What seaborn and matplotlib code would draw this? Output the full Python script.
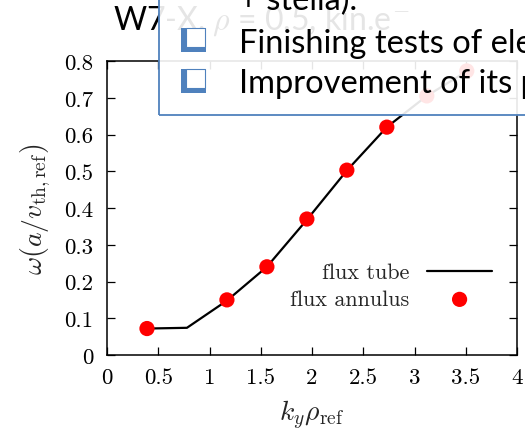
import matplotlib
matplotlib.use("Agg")
import matplotlib.pyplot as plt
from matplotlib.patches import Rectangle
import seaborn as sns
import pandas as pd

# Linear growth-rate scan: flux tube vs flux annulus
ky_tube = [0.39, 0.78, 1.17, 1.56, 1.95, 2.34, 2.73, 3.12, 3.51]
omega_tube = [0.072, 0.074, 0.148, 0.240, 0.368, 0.502, 0.620, 0.705, 0.772]
ky_annulus = [0.39, 1.17, 1.56, 1.95, 2.34, 2.73, 3.12, 3.51]
omega_annulus = [0.072, 0.150, 0.240, 0.370, 0.503, 0.620, 0.705, 0.773]

x_ticks = [0, 0.5, 1, 1.5, 2, 2.5, 3, 3.5, 4]
x_tick_labels = ["0", "0.5", "1", "1.5", "2", "2.5", "3", "3.5", "4"]
y_ticks = [0, 0.1, 0.2, 0.3, 0.4, 0.5, 0.6, 0.7, 0.8]
y_tick_labels = ["0", "0.1", "0.2", "0.3", "0.4", "0.5", "0.6", "0.7", "0.8"]

sns.set_theme(style="ticks")
plt.rcParams["font.family"] = ["cmr10", "DejaVu Serif"]
plt.rcParams["mathtext.fontset"] = "cm"
plt.rcParams["axes.formatter.use_mathtext"] = True

W, H = 525, 435
fig = plt.figure(figsize=(W / 100, H / 100), dpi=100)
fig.patch.set_facecolor("white")

def fx(px):
    return px / W

def fy(py):
    return 1 - py / H

ax = fig.add_axes([fx(107), fy(356), fx(517) - fx(107), fy(62) - fy(356)])
ax.set_facecolor("white")

tube = pd.DataFrame({"ky": ky_tube, "omega": omega_tube})
annulus = pd.DataFrame({"ky": ky_annulus, "omega": omega_annulus})

sns.lineplot(data=tube, x="ky", y="omega", ax=ax, color="black", lw=1.6,
             label="flux tube", zorder=2)
sns.scatterplot(data=annulus, x="ky", y="omega", ax=ax, color="#ff0000",
                s=120, edgecolor="none", label="flux annulus", zorder=3)

ax.set_xlim(0, 4)
ax.set_ylim(0, 0.8)
ax.set_xticks(x_ticks)
ax.set_xticklabels(x_tick_labels)
ax.set_yticks(y_ticks)
ax.set_yticklabels(y_tick_labels)
ax.tick_params(direction="in", length=6, width=0.9, top=True, right=True,
               labelsize=16.5, colors="black")
ax.tick_params(axis="y", pad=10)
ax.tick_params(axis="x", pad=9)
for sp in ax.spines.values():
    sp.set_linewidth(1.1)
    sp.set_color("black")

ax.set_xlabel(r"$k_y\rho_{\rm ref}$", fontsize=20, labelpad=8)
ax.set_ylabel(r"$\omega(a/v_{\rm th,ref})$", fontsize=20, labelpad=8)

leg = ax.legend(markerfirst=False, frameon=False, loc="lower right",
                bbox_to_anchor=(0.967, 0.118), fontsize=16,
                handlelength=2.95, handletextpad=0.8, labelspacing=0.33,
                borderpad=0.0)

# Slide heading behind the overlay box
fig.text(fx(113), fy(30), "W7-X, $\\rho$ = 0.5, kin.e$^{-}$", fontsize=23,
         family=["Lato", "DejaVu Sans"], color="black", va="baseline",
         ha="left", zorder=5)

# Semi-opaque text box laid over the figure
box = Rectangle((fx(159), fy(115.5)), 1.2, fy(-20) - fy(115.5),
                transform=fig.transFigure, facecolor="white", alpha=0.9,
                edgecolor="none", zorder=10)
fig.add_artist(box)
border = Rectangle((fx(159), fy(115.5)), 1.2, fy(-20) - fy(115.5),
                   transform=fig.transFigure, facecolor="none",
                   edgecolor="#4f81bd", lw=1.3, zorder=11)
fig.add_artist(border)

box_font = ["Lato", "DejaVu Sans"]
fig.text(fx(239), fy(10), "+ stella).", fontsize=23.5, family=box_font,
         color="black", va="baseline", ha="left", zorder=12)
fig.text(fx(239), fy(53), "Finishing tests of electromagnetic", fontsize=23.5,
         family=box_font, color="black", va="baseline", ha="left", zorder=12)
fig.text(fx(239), fy(93), "Improvement of its performance", fontsize=23.5,
         family=box_font, color="black", va="baseline", ha="left", zorder=12)

# Checkbox bullets
for top in (29, 70):
    fig.add_artist(Rectangle((fx(181), fy(top + 24)), fx(25), 24 / H,
                             transform=fig.transFigure, facecolor="#4f81bd",
                             edgecolor="none", zorder=12))
    fig.add_artist(Rectangle((fx(185.5), fy(top + 19)), fx(19.5), 19 / H,
                             transform=fig.transFigure, facecolor="white",
                             edgecolor="#4f81bd", lw=0.8, zorder=13))

fig.savefig("out.png", dpi=100, facecolor="white")
